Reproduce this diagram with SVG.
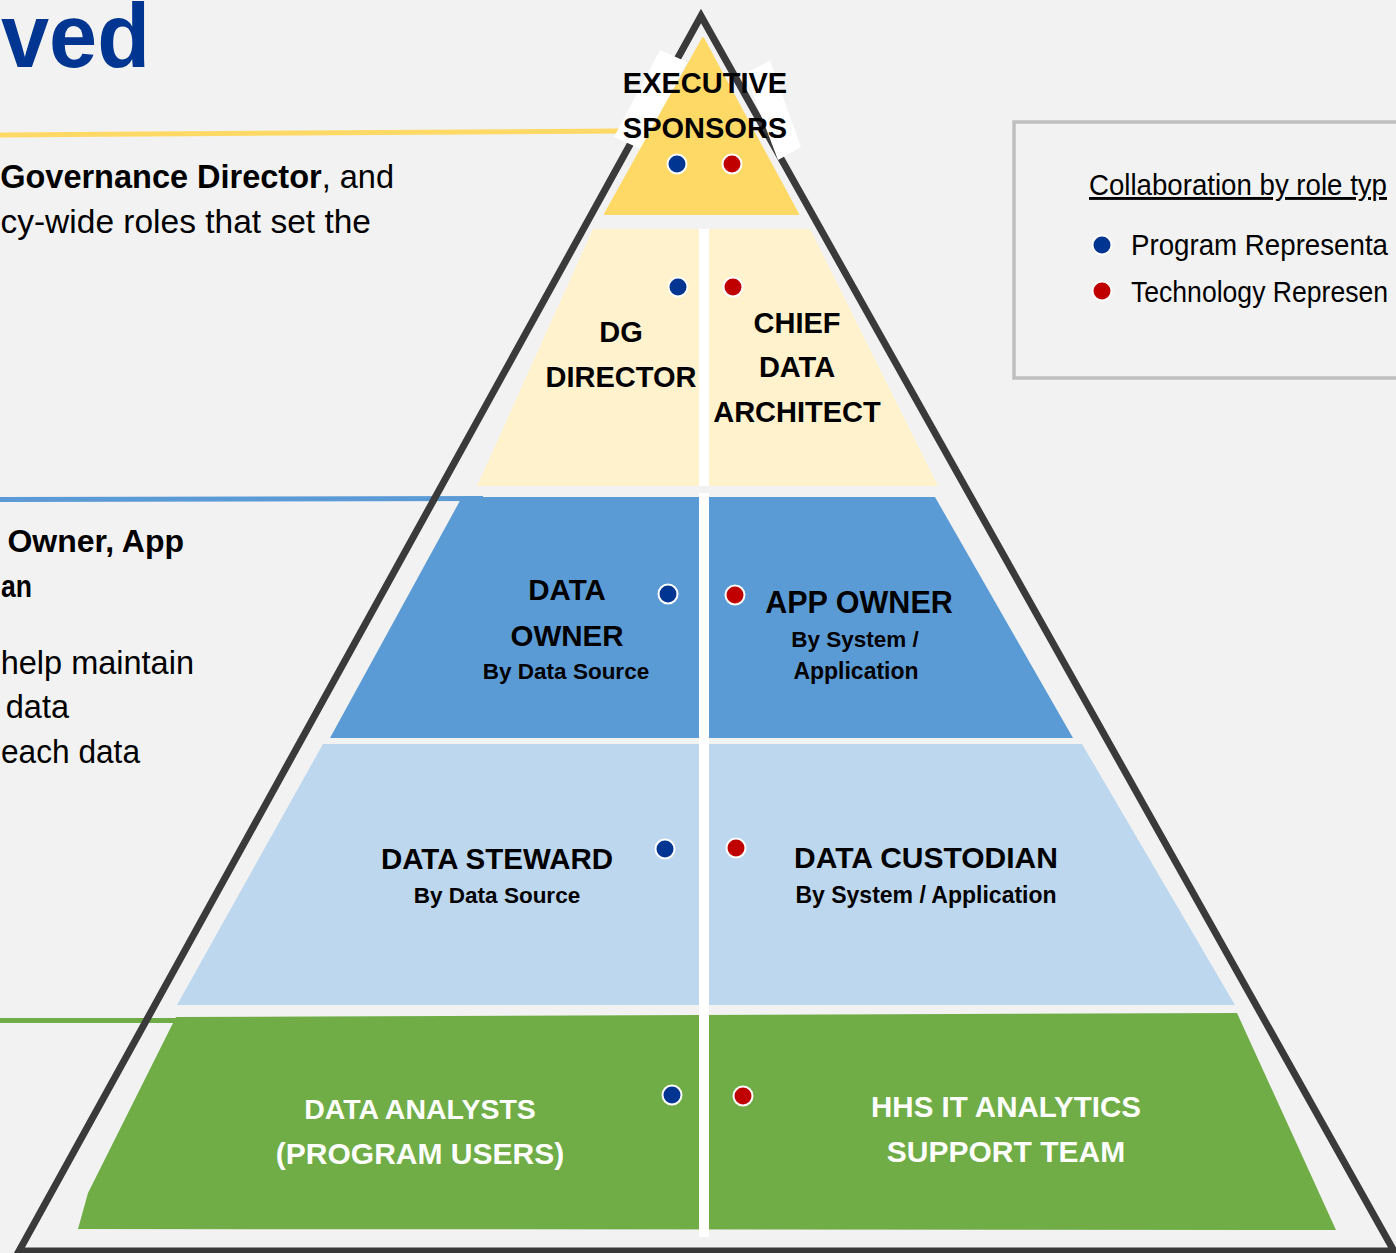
<svg xmlns="http://www.w3.org/2000/svg" width="1396" height="1253" viewBox="0 0 1396 1253">
<style>
.t{font-family:"Liberation Sans",Arial,sans-serif;fill:#000}
.b{font-weight:bold}
.c{text-anchor:middle}
.e{text-anchor:end}
.w{fill:#ffffff}
.pd{fill:#003591;stroke:#ffffff;stroke-width:2}
.rd{fill:#c00000;stroke:#ffffff;stroke-width:2}
</style>
<rect x="0" y="0" width="1396" height="1253" fill="#f2f2f2"/>

<g id="side-text">
<text class="t b" x="1" y="67" font-size="90" textLength="149" lengthAdjust="spacingAndGlyphs" style="fill:#003591">ved</text>
<text class="t e" x="394" y="188" font-size="32.5"><tspan font-weight="bold">Governance Director</tspan>, and</text>
<text class="t e" x="371" y="233" font-size="33.5">cy-wide roles that set the</text>
<text class="t b e" x="184" y="552" font-size="32">Owner, App</text>
<text class="t b" x="1" y="597" font-size="32" textLength="31" lengthAdjust="spacingAndGlyphs">an</text>
<text class="t e" x="194" y="674" font-size="32.5">help maintain</text>
<text class="t e" x="69" y="718" font-size="32.5">data</text>
<text class="t" x="1" y="763" font-size="32.5" textLength="139" lengthAdjust="spacingAndGlyphs">each data</text>
</g>

<g id="connectors">
<line x1="0" y1="135" x2="622" y2="131" stroke="#ffd966" stroke-width="5"/>
<line x1="0" y1="499.5" x2="483" y2="498.5" stroke="#5b9bd5" stroke-width="5"/>
<line x1="0" y1="1020.5" x2="200" y2="1020.5" stroke="#70ad47" stroke-width="5"/>
</g>

<g id="pyramid-outline">
<polygon points="701,16 19,1251 1394,1251" fill="none" stroke="#3a3a3a" stroke-width="7" stroke-linejoin="miter"/>
</g>

<g id="legend">
<rect x="1014" y="122" width="420" height="256" fill="none" stroke="#bfbfbf" stroke-width="3.5"/>
<text class="t" x="1089" y="195" font-size="29" textLength="298" lengthAdjust="spacingAndGlyphs" text-decoration="underline">Collaboration by role typ</text>
<circle class="pd" cx="1102" cy="245" r="9.5"/>
<text class="t" x="1131" y="255" font-size="29" textLength="257" lengthAdjust="spacingAndGlyphs">Program Representa</text>
<circle class="rd" cx="1102" cy="291" r="9.5"/>
<text class="t" x="1131" y="302" font-size="29" textLength="257" lengthAdjust="spacingAndGlyphs">Technology Represen</text>
</g>

<g id="executive-sponsors">
<polygon points="660,50 687,62 641,149 614,137" fill="#ffffff"/>
<polygon points="745,73 770,61 801,147 778,160" fill="#ffffff"/>
<polygon points="703,38 798,214 605,214" fill="#ffd966" stroke="#ffd966" stroke-width="2" stroke-linejoin="round"/>
<text class="t b c" x="705" y="93" font-size="29">EXECUTIVE</text>
<text class="t b c" x="705" y="138" font-size="29">SPONSORS</text>
<circle class="pd" cx="677" cy="164" r="9.5"/>
<circle class="rd" cx="732" cy="164" r="9.5"/>
</g>

<g id="tier-directors">
<polygon points="593,229 810,229 938,486 477,486" fill="#fff2cc"/>
</g>
<g id="tier-owners">
<polygon points="462,497 935,497 1073,738 330,738" fill="#5b9bd5"/>
</g>
<g id="tier-stewards">
<polygon points="323,744 1082,744 1235,1005 177,1005" fill="#bdd7ee"/>
</g>
<g id="tier-analysts">
<polygon points="176,1017 1237,1013 1336,1230 78,1229 88,1193" fill="#70ad47"/>
</g>

<g id="divider">
<rect x="699" y="229" width="10" height="257" fill="#ffffff"/>
<rect x="699" y="493" width="10" height="744" fill="#ffffff"/>
</g>

<g id="dg-director">
<text class="t b c" x="621" y="342" font-size="29">DG</text>
<text class="t b c" x="621" y="387" font-size="29">DIRECTOR</text>
<circle class="pd" cx="678" cy="287" r="9.5"/>
</g>
<g id="chief-data-architect">
<text class="t b c" x="797" y="333" font-size="29">CHIEF</text>
<text class="t b c" x="797" y="377" font-size="29">DATA</text>
<text class="t b c" x="797" y="422" font-size="29">ARCHITECT</text>
<circle class="rd" cx="733" cy="287" r="9.5"/>
</g>

<g id="data-owner">
<text class="t b c" x="567" y="600" font-size="29.5">DATA</text>
<text class="t b c" x="567" y="646" font-size="29.5">OWNER</text>
<text class="t b c" x="566" y="679" font-size="22.5">By Data Source</text>
<circle class="pd" cx="668" cy="594" r="9.5"/>
</g>
<g id="app-owner">
<text class="t b c" x="859" y="613" font-size="30.5">APP OWNER</text>
<text class="t b c" x="855" y="647" font-size="22.5">By System /</text>
<text class="t b c" x="856" y="679" font-size="23">Application</text>
<circle class="rd" cx="735" cy="595" r="9.5"/>
</g>

<g id="data-steward">
<text class="t b c" x="497" y="869" font-size="29.5">DATA STEWARD</text>
<text class="t b c" x="497" y="903" font-size="22.5">By Data Source</text>
<circle class="pd" cx="665" cy="849" r="9.5"/>
</g>
<g id="data-custodian">
<text class="t b c" x="926" y="868" font-size="30">DATA CUSTODIAN</text>
<text class="t b c" x="926" y="903" font-size="23">By System / Application</text>
<circle class="rd" cx="736" cy="848" r="9.5"/>
</g>

<g id="data-analysts">
<text class="t b c w" x="420" y="1119" font-size="28.5">DATA ANALYSTS</text>
<text class="t b c w" x="420" y="1164" font-size="30">(PROGRAM USERS)</text>
<circle class="pd" cx="672" cy="1095" r="9.5"/>
</g>
<g id="hhs-it-analytics">
<text class="t b c w" x="1006" y="1117" font-size="29.5">HHS IT ANALYTICS</text>
<text class="t b c w" x="1006" y="1162" font-size="30">SUPPORT TEAM</text>
<circle class="rd" cx="743" cy="1096" r="9.5"/>
</g>
</svg>
